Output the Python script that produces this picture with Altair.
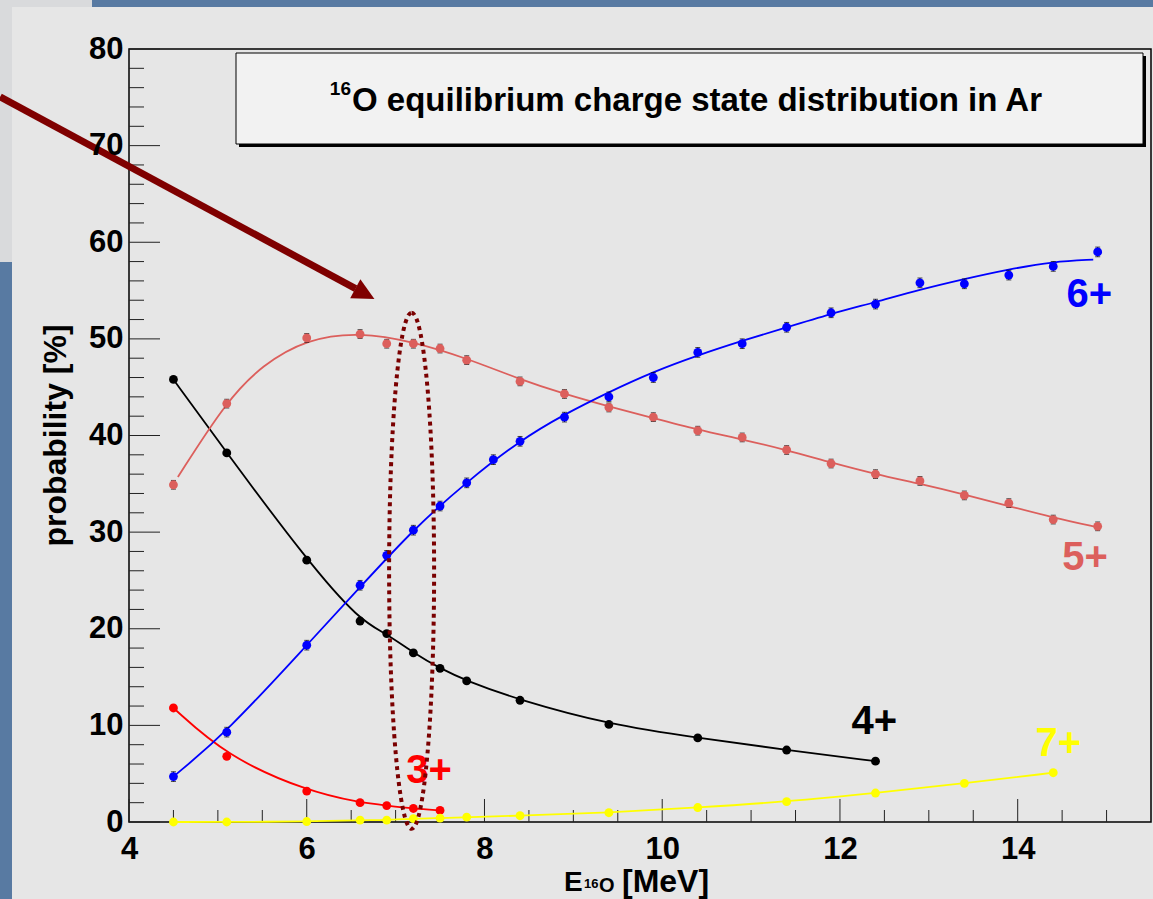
import altair as alt
import pandas as pd

# ---------------- data ----------------
x6 = [4.5, 5.1, 6.0, 6.6, 6.9, 7.2, 7.5, 7.8, 8.1, 8.4, 8.9, 9.4, 9.9, 10.4, 10.9,
      11.4, 11.9, 12.4, 12.9, 13.4, 13.9, 14.4, 14.9]
y6 = [4.7, 9.3, 18.3, 24.5, 27.6, 30.2, 32.7, 35.1, 37.5, 39.4, 41.9, 44.0, 46.0,
      48.6, 49.5, 51.2, 52.7, 53.6, 55.8, 55.7, 56.6, 57.5, 59.0]
e6 = [0.5] * 23

x5 = [4.5, 5.1, 6.0, 6.6, 6.9, 7.2, 7.5, 7.8, 8.4, 8.9, 9.4, 9.9, 10.4, 10.9,
      11.4, 11.9, 12.4, 12.9, 13.4, 13.9, 14.4, 14.9]
y5 = [34.9, 43.3, 50.1, 50.5, 49.5, 49.5, 49.0, 47.8, 45.6, 44.3, 42.9, 41.9,
      40.5, 39.8, 38.5, 37.1, 36.0, 35.3, 33.8, 33.0, 31.3, 30.6]
e5 = [0.45] * 22

x4 = [4.5, 5.1, 6.0, 6.6, 6.9, 7.2, 7.5, 7.8, 8.4, 9.4, 10.4, 11.4, 12.4]
y4 = [45.8, 38.2, 27.1, 20.8, 19.5, 17.5, 15.9, 14.6, 12.6, 10.1, 8.7, 7.45, 6.3]

x3 = [4.5, 5.1, 6.0, 6.6, 6.9, 7.2, 7.5]
y3 = [11.8, 6.8, 3.2, 2.0, 1.7, 1.4, 1.2]

x7 = [4.5, 5.1, 6.0, 6.6, 6.9, 7.2, 7.5, 7.8, 8.4, 9.4, 10.4, 11.4, 12.4, 13.4, 14.4]
y7 = [0.0, 0.0, 0.05, 0.2, 0.2, 0.35, 0.4, 0.5, 0.65, 0.96, 1.5, 2.1, 3.0, 4.0, 5.1]

# fitted curves (6+ and 5+)
fx6 = [4.5, 5.1, 6.0, 6.6, 7.2, 7.8, 8.4, 8.9, 9.4, 9.9, 10.4, 10.9, 11.4, 11.9,
       12.4, 12.9, 13.4, 13.9, 14.4, 14.85]
fy6 = [4.7, 9.3, 18.3, 24.3, 30.3, 35.2, 39.5, 42.2, 44.5, 46.6, 48.3, 49.8, 51.2,
       52.6, 53.8, 55.1, 56.2, 57.2, 58.0, 58.2]
fx5 = [4.55, 5.1, 5.5, 6.0, 6.6, 7.2, 7.8, 8.4, 8.9, 9.4, 9.9, 10.4, 10.9, 11.4,
       11.9, 12.4, 12.9, 13.4, 13.9, 14.4, 14.9]
fy5 = [35.7, 43.6, 47.3, 50.0, 50.7, 49.7, 48.0, 45.8, 44.3, 43.0, 41.8, 40.6, 39.6,
       38.5, 37.2, 36.0, 35.0, 33.9, 32.7, 31.5, 30.5]

series_names = ["3+", "4+", "5+", "6+", "7+"]
series_colors = ["#ff0000", "#000000", "#dc5f5c", "#0000ff", "#ffff00"]
label_x = [7.12, 12.13, 14.50, 14.55, 14.20]
label_y = [4.0, 9.1, 26.1, 53.3, 6.8]

x_major = [4, 6, 8, 10, 12, 14]
x_minor = [4.5, 5, 5.5, 6.5, 7, 7.5, 8.5, 9, 9.5, 10.5, 11, 11.5, 12.5, 13, 13.5, 14.5, 15]
y_major = [0, 10, 20, 30, 40, 50, 60, 70, 80]
y_minor = [2, 4, 6, 8, 12, 14, 16, 18, 22, 24, 26, 28, 32, 34, 36, 38, 42, 44, 46, 48,
           52, 54, 56, 58, 62, 64, 66, 68, 72, 74, 76, 78]

title_text = "O equilibrium charge state distribution in Ar"

# annotations (arrow and ellipse) in data coordinates
arrow_start = (2.55, 75.05)
arrow_end = (6.55, 55.2)
arrow_head = (6.654, 54.66)
ellipse_center = (7.18, 26.0)

# ---------------- build tables ----------------
pts = []
for name, xs, ys in [("3+", x3, y3), ("4+", x4, y4), ("5+", x5, y5), ("6+", x6, y6), ("7+", x7, y7)]:
    for xv, yv in zip(xs, ys):
        pts.append({"s": name, "x": xv, "y": yv})
pts = pd.DataFrame(pts)

fit_rows = []
for name, xs, ys in [("3+", x3, y3), ("4+", x4, y4), ("5+", fx5, fy5), ("6+", fx6, fy6), ("7+", x7, y7)]:
    for xv, yv in zip(xs, ys):
        fit_rows.append({"s": name, "x": xv, "y": yv})
fit_df = pd.DataFrame(fit_rows)

errs = []
for name, xs, ys, es in [("5+", x5, y5, e5), ("6+", x6, y6, e6)]:
    for xv, yv, ev in zip(xs, ys, es):
        errs.append({"s": name, "x": xv, "lo": yv - ev, "hi": yv + ev})
errs = pd.DataFrame(errs)

labels = pd.DataFrame({"s": series_names, "x": label_x, "y": label_y})

W, H = 1022, 773
FONT = "Liberation Sans"

xs_ = alt.Scale(domain=[4, 15.5], nice=False, zero=False)
ys_ = alt.Scale(domain=[0, 80], nice=False, zero=False)
col = alt.Scale(domain=series_names, range=series_colors)

xaxis = alt.Axis(values=x_major, ticks=False, tickSize=0, domain=False, grid=False,
                 labelFont=FONT, labelFontWeight="bold", labelFontSize=31,
                 labelColor="black", labelPadding=12, title=None, zindex=1,
                 labelFlush=False)
yaxis = alt.Axis(values=y_major, ticks=False, tickSize=0, domain=False, grid=False,
                 labelFont=FONT, labelFontWeight="bold", labelFontSize=31,
                 labelColor="black", labelPadding=6, zindex=1,
                 title="probability [%]", titleFont=FONT, titleFontWeight="bold",
                 titleFontSize=32, titleColor="black", titleAngle=270,
                 titleAlign="center", titleBaseline="alphabetic", titleX=-64, titleY=386)

def X(f="x"):
    return alt.X(f"{f}:Q", scale=xs_, axis=xaxis)

def Y(f="y"):
    return alt.Y(f"{f}:Q", scale=ys_, axis=yaxis)

one = pd.DataFrame({"a": [0]})

# background decorations
bg = alt.Chart(one).mark_rect(color="#e6e6e6").encode(
    x=alt.value(-117), x2=alt.value(1024), y=alt.value(-42), y2=alt.value(850))
slide1 = alt.Chart(one).mark_rect(color="#d9dadc").encode(
    x=alt.value(-129), x2=alt.value(-117), y=alt.value(-49), y2=alt.value(213))
slide2 = alt.Chart(one).mark_rect(color="#d9dadc").encode(
    x=alt.value(-129), x2=alt.value(-37), y=alt.value(-49), y2=alt.value(-42))

# title box
shadow = alt.Chart(one).mark_rect(color="black").encode(
    x=alt.value(110), x2=alt.value(1017), y=alt.value(7), y2=alt.value(98))
box = alt.Chart(one).mark_rect(fill="#f2f2f2", stroke="black", strokeWidth=1).encode(
    x=alt.value(107), x2=alt.value(1014), y=alt.value(4), y2=alt.value(95))
ttl = alt.Chart(one).mark_text(text=title_text, font=FONT, fontWeight="bold", fontSize=33,
                               align="left", baseline="alphabetic", color="black").encode(
    x=alt.value(223), y=alt.value(62))
ttl_sup = alt.Chart(one).mark_text(text="16", font=FONT, fontWeight="bold", fontSize=19,
                                   align="right", baseline="alphabetic", color="black").encode(
    x=alt.value(222), y=alt.value(46))

# frame
frame = alt.Chart(one).mark_rect(filled=False, stroke="black", strokeWidth=1.5).encode(
    x=alt.value(0), x2=alt.value(W), y=alt.value(0), y2=alt.value(H))

# ticks
ymaj = alt.Chart(pd.DataFrame({"y": y_major})).mark_rule(color="#222", strokeWidth=1).encode(
    y=Y(), x=alt.value(0), x2=alt.value(31))
ymin = alt.Chart(pd.DataFrame({"y": y_minor})).mark_rule(color="#222", strokeWidth=1).encode(
    y=Y(), x=alt.value(0), x2=alt.value(15))
xmaj = alt.Chart(pd.DataFrame({"x": x_major})).mark_rule(color="#222", strokeWidth=1).encode(
    x=X(), y=alt.value(H), y2=alt.value(H - 23))
xmin = alt.Chart(pd.DataFrame({"x": x_minor})).mark_rule(color="#222", strokeWidth=1).encode(
    x=X(), y=alt.value(H), y2=alt.value(H - 12))

# fits
fits = alt.Chart(fit_df).mark_line(interpolate="basis", strokeWidth=1.8).encode(
    x=X(), y=Y(), color=alt.Color("s:N", scale=col, legend=None), detail="s:N")

# error bars
ebar = alt.Chart(errs).mark_rule(color="black", strokeWidth=1).encode(
    x=X(), y=Y("lo"), y2="hi:Q")
ecap_hi = alt.Chart(errs).mark_tick(color="black", orient="horizontal", size=5, thickness=1).encode(
    x=X(), y=Y("hi"))
ecap_lo = alt.Chart(errs).mark_tick(color="black", orient="horizontal", size=5, thickness=1).encode(
    x=X(), y=Y("lo"))

dots = alt.Chart(pts).mark_circle(size=78, opacity=1).encode(
    x=X(), y=Y(), color=alt.Color("s:N", scale=col, legend=None))

lab = alt.Chart(labels).mark_text(font=FONT, fontWeight="bold", fontSize=40,
                                  align="left", baseline="alphabetic").encode(
    x=X(), y=Y(), text="s:N", color=alt.Color("s:N", scale=col, legend=None))

# x-axis title with subscripts
xt_E = alt.Chart(one).mark_text(text="E", font=FONT, fontWeight="bold", fontSize=28,
                                align="left", baseline="alphabetic", color="black").encode(
    x=alt.value(435), y=alt.value(842))
xt_16 = alt.Chart(one).mark_text(text="16", font=FONT, fontWeight="bold", fontSize=13,
                                 align="left", baseline="alphabetic", color="black").encode(
    x=alt.value(455), y=alt.value(839))
xt_O = alt.Chart(one).mark_text(text="O", font=FONT, fontWeight="bold", fontSize=20,
                                align="left", baseline="alphabetic", color="black").encode(
    x=alt.value(470), y=alt.value(843))
xt_u = alt.Chart(one).mark_text(text="[MeV]", font=FONT, fontWeight="bold", fontSize=32,
                                align="left", baseline="alphabetic", color="black").encode(
    x=alt.value(493), y=alt.value(843))

# annotations: ellipse and arrow
ell = alt.Chart(pd.DataFrame({"x": [ellipse_center[0]], "y": [ellipse_center[1]]})).mark_point(
    shape="M0,-1 C0.0482,-1 0.0872,-0.5523 0.0872,0 C0.0872,0.5523 0.0482,1 0,1 "
          "C-0.0482,1 -0.0872,0.5523 -0.0872,0 C-0.0872,-0.5523 -0.0482,-1 0,-1 Z",
    size=266256, filled=False, stroke="#7a0000", strokeWidth=4, strokeDash=[4, 4], opacity=1
).encode(x=X(), y=Y())

arr = alt.Chart(pd.DataFrame({"x": [arrow_start[0]], "y": [arrow_start[1]],
                              "x2": [arrow_end[0]], "y2": [arrow_end[1]]})).mark_rule(
    color="#7f0000", strokeWidth=7).encode(x=X(), y=Y(), x2="x2:Q", y2="y2:Q")
head = alt.Chart(pd.DataFrame({"x": [arrow_head[0]], "y": [arrow_head[1]]})).mark_point(
    shape="M1,0 L-1,-1 L-1,1 Z", size=470, filled=True, color="#7f0000", opacity=1,
    angle=28).encode(x=X(), y=Y())

chart = alt.layer(
    bg, slide1, slide2, shadow, box, ttl, ttl_sup, frame,
    ymaj, ymin, xmaj, xmin, fits, ebar, ecap_hi, ecap_lo, dots, lab,
    xt_E, xt_16, xt_O, xt_u, ell, arr, head
).properties(
    width=W, height=H,
    padding={"left": 129, "top": 49, "right": 2, "bottom": 77},
    autosize=alt.AutoSizeParams(type="none"),
    background="#587aa2",
).configure_view(strokeWidth=0)

chart.save("out.html", embed_options={"renderer": "svg", "actions": False})
